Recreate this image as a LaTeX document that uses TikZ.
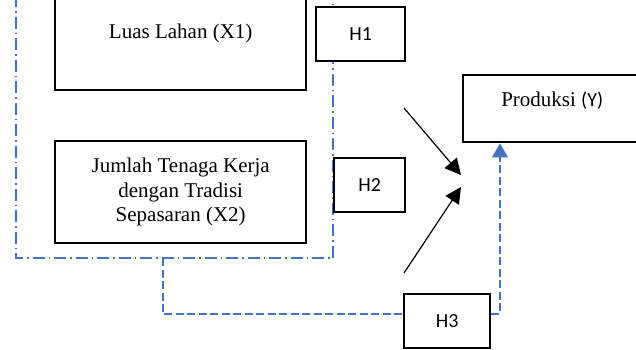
\documentclass[tikz,border=0pt]{standalone}
\usepackage{fontspec}
\setmainfont{Liberation Serif}
\newfontfamily\hfont{Carlito}
\usetikzlibrary{arrows.meta}
\definecolor{linkblue}{HTML}{4472C4}
\tikzset{
  box/.style={draw=black, line width=2.4pt, fill=white, inner sep=0pt, anchor=north west},
  mtext/.style={font=\fontsize{21}{24.5}\selectfont, align=center, inner sep=0pt},
  htext/.style={font=\hfont\fontsize{20}{24}\selectfont, inner sep=0pt},
  dashdotline/.style={draw=linkblue, line width=1.3pt, dash pattern=on 12pt off 4pt on 1.5pt off 4pt},
  dashline/.style={draw=linkblue, line width=1.3pt, dash pattern=on 8pt off 3.5pt},
  blackarrow/.style={draw=black, line width=1.2pt, -{Triangle[length=16pt,width=16pt]}},
}
\begin{document}
\begin{tikzpicture}[x=1pt,y=-1pt]
\useasboundingbox (0,0) rectangle (636,349);
% coordinates for blue loop
\coordinate (tl) at (16,-5);
\coordinate (bl) at (16,258);
\coordinate (br) at (333,258);
\coordinate (tr) at (333,-5);
\coordinate (d1) at (163,258);
\draw[dashdotline] (tl) -- (bl) -- (br) -- (tr);
% boxes
\node[box, minimum width=251pt, minimum height=109pt] (x1) at (54,-20) {};
\node[mtext] (x1t) at ([yshift=2pt]x1.center) {Luas Lahan (X1)};
\node[box, minimum width=251pt, minimum height=102pt] (x2) at (54,140) {};
\node[mtext] (x2t) at (x2.center) {Jumlah Tenaga Kerja\\dengan Tradisi\\Sepasaran (X2)};
\node[box, minimum width=178pt, minimum height=67pt] (y) at (462,74) {};
\node[mtext] (yt) at ([yshift=8pt]y.center) {Produksi {\hfont\fontsize{20}{24}\selectfont(Y)}};
\node[box, line width=2.2pt, minimum width=89pt, minimum height=54pt] (h1) at (315,6) {};
\node[htext] (h1t) at (h1.center) {H1};
\node[box, line width=2.2pt, minimum width=71pt, minimum height=54pt] (h2) at (333,157) {};
\node[htext] (h2t) at (h2.center) {H2};
% H3 and dashed path to Produksi
\node[box, line width=2.2pt, minimum width=86pt, minimum height=54pt] (h3) at (403,293) {};
\node[htext] (h3t) at (h3.center) {H3};
\draw[dashline] (d1) |- ([yshift=7pt]h3.west);
\draw[dashline, -{Triangle[length=14pt,width=16pt]}] ([yshift=7pt]h3.east) -| ([xshift=38pt]y.south west);
% black arrows
\coordinate (a1s) at (404,108);
\coordinate (a1e) at (461,175);
\coordinate (a2s) at (404,273);
\coordinate (a2e) at (461,187);
\draw[blackarrow] (a1s) -- (a1e);
\draw[blackarrow] (a2s) -- (a2e);
\end{tikzpicture}
\end{document}
